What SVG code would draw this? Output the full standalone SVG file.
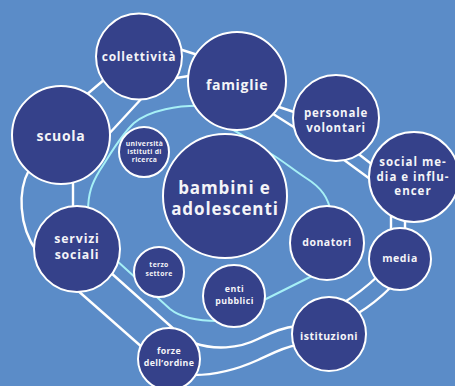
<svg xmlns="http://www.w3.org/2000/svg" width="455" height="386" viewBox="0 0 455 386">
  <style>
    .node circle { fill: #35418a; stroke: #ffffff; stroke-width: 2; }
    .node text { fill: #f4f4f8; font-family: "Open Sans", "DejaVu Sans", sans-serif; font-weight: 700; text-anchor: middle; }
    .tube { fill: none; stroke: #ffffff; stroke-width: 2.4; stroke-linecap: round; }
    .ring { fill: none; stroke: #a6f0f6; stroke-width: 2; stroke-linecap: round; }
  </style>
  <rect width="455" height="386" fill="#5b8cc8"/>

  <g id="connectors">
    <!-- outer chain: pairs of parallel lines between neighbouring circles -->
    <path class="tube" d="M176,48 L204,57"/>
    <path class="tube" d="M170,79 L195,75"/>
    <path class="tube" d="M276,106 L300,114"/>
    <path class="tube" d="M270,112 L300,131"/>
    <path class="tube" d="M356,152 L374,166"/>
    <path class="tube" d="M340,157 L370,179"/>
    <path class="tube" d="M391,212 L391,234"/>
    <path class="tube" d="M405,218 L405,232"/>
    <path class="tube" d="M343,303 Q361,292 378,276"/>
    <path class="tube" d="M357,314 Q375,303 390,288"/>
    <path class="tube" d="M194,343 C214,350 238,349 258,339 C273,332 284,327 297,326"/>
    <path class="tube" d="M194,375 C214,375 238,369 258,360 C273,353 284,347 297,345"/>
    <path class="tube" d="M110,272 L176,331"/>
    <path class="tube" d="M76,289 L143,348"/>
    <path class="tube" d="M73,180 L73,210"/>
    <path class="tube" d="M29,170 C18,190 18,225 37,252"/>
    <path class="tube" d="M85,96 L105,79"/>
    <path class="tube" d="M107,136 L143,97"/>
    <!-- inner loop -->
    <path class="ring" d="M205,106 C178,105 150,110 134,123 C120,136 110,155 100,170 C92,183 88,193 88,212"/>
    <path class="ring" d="M105,250 L170,309 Q185,321 218,321"/>
    <path class="ring" d="M256,304 L320,272"/>
    <path class="ring" d="M331,212 C328,198 322,188 306,178 C292,169 282,160 268,152 C255,144 245,136 228,127"/>
  </g>

  <g id="collettivita" class="node">
    <circle cx="139" cy="56.5" r="43"/>
    <text x="139" y="61" font-size="12" letter-spacing="0.8">collettività</text>
  </g>
  <g id="famiglie" class="node">
    <circle cx="237" cy="81" r="49"/>
    <text x="237" y="90" font-size="14" letter-spacing="0.7">famiglie</text>
  </g>
  <g id="scuola" class="node">
    <circle cx="61" cy="135" r="49"/>
    <text x="61" y="141" font-size="14" letter-spacing="0.7">scuola</text>
  </g>
  <g id="universita" class="node">
    <circle cx="144" cy="152" r="25"/>
    <text x="144.5" y="146" font-size="6.8" letter-spacing="0.3">università</text>
    <text x="144.5" y="154" font-size="6.8" letter-spacing="0.3">istituti di</text>
    <text x="144.5" y="162" font-size="6.8" letter-spacing="0.3">ricerca</text>
  </g>
  <g id="bambini" class="node">
    <circle cx="225" cy="196" r="62"/>
    <text x="224.5" y="194" font-size="17" letter-spacing="0.9">bambini e</text>
    <text x="225" y="215" font-size="17" letter-spacing="0.9">adolescenti</text>
  </g>
  <g id="personale" class="node">
    <circle cx="336" cy="118" r="43"/>
    <text x="336" y="117" font-size="11.5" letter-spacing="0.8">personale</text>
    <text x="336" y="132" font-size="11.5" letter-spacing="0.8">volontari</text>
  </g>
  <g id="social" class="node">
    <circle cx="414" cy="177" r="45"/>
    <text x="413" y="166" font-size="11.5" letter-spacing="1">social me-</text>
    <text x="413" y="180.5" font-size="11.5" letter-spacing="1">dia e influ-</text>
    <text x="413" y="195" font-size="11.5" letter-spacing="1">encer</text>
  </g>
  <g id="media" class="node">
    <circle cx="400" cy="259" r="31"/>
    <text x="400" y="262" font-size="10.5" letter-spacing="0.6">media</text>
  </g>
  <g id="donatori" class="node">
    <circle cx="327" cy="243" r="37"/>
    <text x="327" y="246" font-size="10.5" letter-spacing="0.5">donatori</text>
  </g>
  <g id="istituzioni" class="node">
    <circle cx="329" cy="334" r="37"/>
    <text x="329" y="340" font-size="10.5" letter-spacing="0.5">istituzioni</text>
  </g>
  <g id="enti" class="node">
    <circle cx="234" cy="296" r="31"/>
    <text x="234.5" y="291.5" font-size="8.8" letter-spacing="0.45">enti</text>
    <text x="234.5" y="303.5" font-size="8.8" letter-spacing="0.45">pubblici</text>
  </g>
  <g id="terzo" class="node">
    <circle cx="159" cy="272" r="25"/>
    <text x="159" y="267" font-size="6.8" letter-spacing="0.35">terzo</text>
    <text x="159" y="276" font-size="6.8" letter-spacing="0.35">settore</text>
  </g>
  <g id="servizi" class="node">
    <circle cx="77" cy="249" r="43"/>
    <text x="77" y="242.5" font-size="12.3" letter-spacing="0.85">servizi</text>
    <text x="77" y="258.5" font-size="12.3" letter-spacing="0.85">sociali</text>
  </g>
  <g id="forze" class="node">
    <circle cx="169" cy="359" r="31"/>
    <text x="169" y="353.5" font-size="8.8" letter-spacing="0.35">forze</text>
    <text x="169" y="365.5" font-size="8.8" letter-spacing="0.35">dell’ordine</text>
  </g>
</svg>
